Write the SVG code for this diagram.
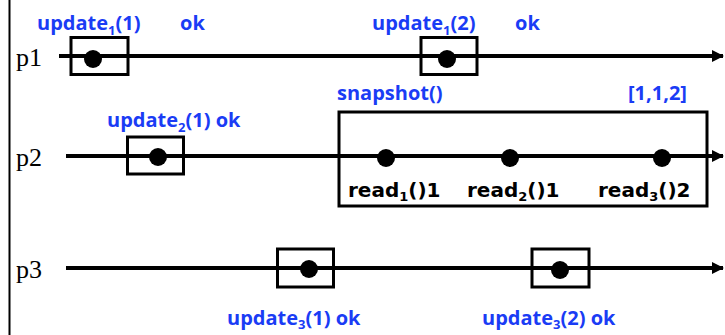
<svg xmlns="http://www.w3.org/2000/svg" width="725" height="335" viewBox="0 0 725 335">
<style>
.lbl{font-family:"Liberation Serif",serif;font-size:26px;fill:#000}
.op{font-family:"Open Sans","Liberation Sans",sans-serif;font-weight:bold;font-size:20px;fill:#1a3cf5}
.rd{font-family:"DejaVu Sans","Liberation Sans",sans-serif;font-weight:bold;font-size:20px;fill:#000}
.sub{font-size:13px}
.box{fill:none;stroke:#000;stroke-width:3}
.dot{fill:#000}
.line{stroke:#000;stroke-width:4;fill:none}
</style>
<defs>
<marker id="arr" markerWidth="12" markerHeight="12" refX="11" refY="6" orient="auto" markerUnits="userSpaceOnUse">
<path d="M0,0 L12,6 L0,12 Z" fill="#000"/>
</marker>
</defs>
<rect width="725" height="335" fill="#fff"/>
<line x1="9.5" y1="0" x2="9.5" y2="335" stroke="#000" stroke-width="2"/>
<g id="connectors">
<line class="line" x1="59" y1="56" x2="723" y2="56" marker-end="url(#arr)"/>
<line class="line" x1="66" y1="156" x2="723" y2="156" marker-end="url(#arr)"/>
<line class="line" x1="66" y1="268" x2="723" y2="268" marker-end="url(#arr)"/>
</g>
<g id="p1">
<text class="lbl" x="16" y="66">p1</text>
</g>
<g id="p2">
<text class="lbl" x="16" y="166">p2</text>
</g>
<g id="p3">
<text class="lbl" x="16" y="278">p3</text>
</g>
<g id="u1a">
<rect class="box" x="71" y="37.5" width="57" height="37"/>
<circle class="dot" cx="93" cy="59" r="9"/>
<text class="op" x="37" y="30">update<tspan class="sub" dy="5">1</tspan><tspan dy="-5">(1)</tspan></text>
<text class="op" x="180" y="30">ok</text>
</g>
<g id="u1b">
<rect class="box" x="421" y="37.5" width="56" height="37"/>
<circle class="dot" cx="447" cy="59" r="9"/>
<text class="op" x="372" y="30">update<tspan class="sub" dy="5">1</tspan><tspan dy="-5">(2)</tspan></text>
<text class="op" x="515" y="30">ok</text>
</g>
<g id="u2">
<rect class="box" x="127.5" y="137" width="56" height="37"/>
<circle class="dot" cx="158" cy="157" r="9"/>
<text class="op" x="107" y="127">update<tspan class="sub" dy="5">2</tspan><tspan dy="-5">(1) ok</tspan></text>
</g>
<g id="snapshot">
<rect class="box" x="339" y="112" width="368" height="94"/>
<text class="op" x="337" y="100">snapshot()</text>
<text class="op" x="628" y="100">[1,1,2]</text>
<circle class="dot" cx="386" cy="158" r="9"/>
<circle class="dot" cx="510" cy="158" r="9"/>
<circle class="dot" cx="662" cy="158" r="9"/>
<text class="rd" x="348" y="197">read<tspan class="sub" dy="4">1</tspan><tspan dy="-4">()1</tspan></text>
<text class="rd" x="467" y="197">read<tspan class="sub" dy="4">2</tspan><tspan dy="-4">()1</tspan></text>
<text class="rd" x="598" y="197">read<tspan class="sub" dy="4">3</tspan><tspan dy="-4">()2</tspan></text>
</g>
<g id="u3a">
<rect class="box" x="277.5" y="249" width="56" height="38"/>
<circle class="dot" cx="309" cy="269" r="9"/>
<text class="op" x="227" y="325">update<tspan class="sub" dy="4">3</tspan><tspan dy="-4">(1) ok</tspan></text>
</g>
<g id="u3b">
<rect class="box" x="532" y="249" width="57" height="38"/>
<circle class="dot" cx="560" cy="270" r="9"/>
<text class="op" x="482" y="325">update<tspan class="sub" dy="4">3</tspan><tspan dy="-4">(2) ok</tspan></text>
</g>
</svg>
